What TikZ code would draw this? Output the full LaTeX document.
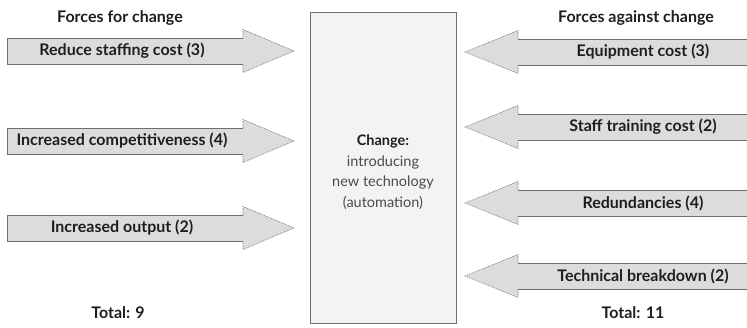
\documentclass[tikz,border=0pt]{standalone}
\usepackage{fontspec}
\setmainfont{Lato}
\usepackage{tikz}

\definecolor{shaftgray}{HTML}{DCDCDC}
\definecolor{edgegray}{HTML}{6E6E6E}
\definecolor{boxgray}{HTML}{F3F3F3}
\definecolor{inkgray}{HTML}{1E1E1E}

\tikzset{
  shaft/.style={draw=edgegray, line width=0.8pt},
  headline/.style={draw=edgegray!85, line width=0.6pt, dash pattern=on 1.6pt off 1pt},
  forcelabel/.style={font=\fontsize{16}{18}\selectfont\bfseries, text=inkgray, inner sep=0pt},
}

\begin{document}
\begin{tikzpicture}[x=1pt,y=-1pt]
\useasboundingbox (0,0) rectangle (747,327);

% the change in the middle
\draw[draw=edgegray, fill=boxgray, line width=0.8pt] (310,12) rectangle (456,323);
\node[align=center, text=inkgray!80, font=\fontsize{14.5}{20.5}\selectfont] (change) at (383,172)
  {\textbf{\color{inkgray}Change:}\\introducing\\new technology\\(automation)};

% headings and totals
\node[forcelabel] (forhead) at (120,18) {Forces for change};
\node[forcelabel] (againsthead) at (636,18) {Forces against change};
\node[forcelabel] (fortotal) at (118,313) {Total: 9};
\node[forcelabel] (againsttotal) at (633,313) {Total: 11};

% forces pushing towards the change
\foreach \c/\txt [count=\i] in {51/Reduce staffing cost (3), 141/Increased competitiveness (4), 228/Increased output (2)}{
  \fill[shaftgray] (7,\c-13) -- (243,\c-13) -- (243,\c-21.5) -- (294,\c) -- (243,\c+21.5) -- (243,\c+13) -- (7,\c+13) -- cycle;
  \draw[shaft] (243,\c-13) -- (7,\c-13) -- (7,\c+13) -- (243,\c+13);
  \draw[headline] (243,\c-13) -- (243,\c-21.5) -- (294,\c) -- (243,\c+21.5) -- (243,\c+13);
  \node[forcelabel] (for\i) at (122,\c) {\txt};
}

% forces resisting the change
\foreach \c/\txt [count=\i] in {52/Equipment cost (3), 127/Staff training cost (2), 203/Redundancies (4), 276/Technical breakdown (2)}{
  \fill[shaftgray] (747,\c-13) -- (518,\c-13) -- (518,\c-21.5) -- (465,\c) -- (518,\c+21.5) -- (518,\c+13) -- (747,\c+13) -- cycle;
  \draw[shaft] (747,\c-13) -- (518,\c-13);
  \draw[shaft] (747,\c+13) -- (518,\c+13);
  \draw[headline] (518,\c-13) -- (518,\c-21.5) -- (465,\c) -- (518,\c+21.5) -- (518,\c+13);
  \node[forcelabel] (against\i) at (643,\c) {\txt};
}
\end{tikzpicture}
\end{document}
